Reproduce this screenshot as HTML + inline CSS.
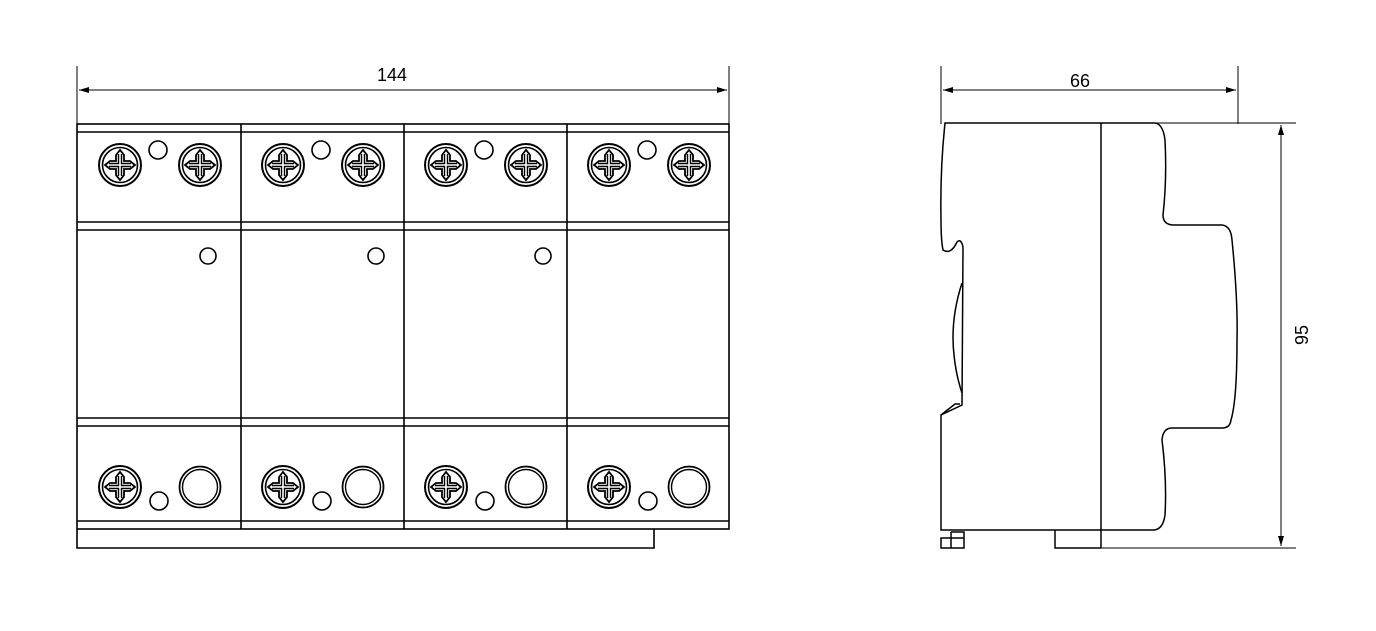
<!DOCTYPE html>
<html><head><style>html,body{margin:0;padding:0;background:#fff}svg{display:block}</style></head>
<body>
<svg width="1376" height="631" viewBox="0 0 1376 631" xmlns="http://www.w3.org/2000/svg" font-family="Liberation Sans, sans-serif">
<defs>
<g id="scr" fill="none" stroke="#000">
<circle r="21" stroke-width="2"/><circle r="17.5" stroke-width="1.6"/>
<path d="M-4,-10 L0,-15 L4,-10 L4,-4 L10,-4 L15,0 L10,4 L4,4 L4,10 L0,15 L-4,10 L-4,4 L-10,4 L-15,0 L-10,-4 L-4,-4 Z" stroke-width="1.8"/>
<path d="M-1.5,-11 V-1.5 H-11 M1.5,-11 V-1.5 H11 M-1.5,11 V1.5 H-11 M1.5,11 V1.5 H11" stroke-width="1.4"/>
</g>
<g id="mod" fill="none" stroke="#000" stroke-width="1.6">
<use href="#scr" x="120" y="165"/><use href="#scr" x="200" y="165"/>
<circle cx="158" cy="150" r="9"/>
<use href="#scr" x="120" y="487"/>
<circle cx="159" cy="501" r="9"/>
<circle cx="200" cy="487" r="20.5" stroke-width="1.8"/><circle cx="200" cy="487" r="17.5" stroke-width="1.4"/>
</g>
<marker id="a" viewBox="0 0 10 6" refX="10" refY="3" markerWidth="10" markerHeight="6" orient="auto-start-reverse" markerUnits="userSpaceOnUse"><path d="M0,0 L10,3 L0,6Z" fill="#000"/></marker>
</defs>
<g fill="none" stroke="#000" stroke-width="1.6">
<rect x="77" y="124" width="652" height="405"/>
<path d="M77,132H729M77,222H729M77,230H729M77,418H729M77,426H729M77,521H729"/>
<path d="M241,124V529M404,124V529M567,124V529"/>
<path d="M77,529V548H654V529"/>
<circle cx="208" cy="256" r="8"/><circle cx="376" cy="256" r="8"/><circle cx="543" cy="256" r="8"/>
</g>
<use href="#mod"/><use href="#mod" x="163"/><use href="#mod" x="326"/><use href="#mod" x="489"/>
<g stroke="#000" stroke-width="1" fill="none">
<path d="M77,66V124M729,66V124"/>
<path d="M79,90H727" marker-start="url(#a)" marker-end="url(#a)"/>
<path d="M941,66V124M1238,66V124"/>
<path d="M943,90H1236" marker-start="url(#a)" marker-end="url(#a)"/>
<path d="M1101,123H1296M1101,548H1296"/>
<path d="M1281,125V546" marker-start="url(#a)" marker-end="url(#a)"/>
</g>
<text x="392" y="81" font-size="18" text-anchor="middle">144</text>
<text x="1080" y="87" font-size="18" text-anchor="middle">66</text>
<text x="0" y="0" font-size="18" text-anchor="middle" transform="translate(1308,335) rotate(-90)">95</text>
<g fill="none" stroke="#000" stroke-width="1.5">
<path d="M945,123H1155Q1163,124 1165,140Q1167,180 1163,215Q1163,225 1174,225H1222Q1231,226 1232,240Q1238,300 1237,340Q1237,400 1231,420Q1230,428 1222,428H1172Q1163,428 1162,440Q1167,480 1165,515Q1163,530 1153,530H941V415L962,405L963,247Q961,238 957,242Q951,255 943,250Q941,240 941,220Q940,170 945,123Z"/>
<path d="M962,283Q950,320 954,355Q956,375 962,393"/>
<path d="M941,415L955,404H960"/>
<path d="M1101,123V548"/>
<path d="M1055,530V548H1101"/>
<path d="M941,538H964V548H941ZM951,532V548M951,532H964V538"/>
</g>
</svg>
</body></html>
